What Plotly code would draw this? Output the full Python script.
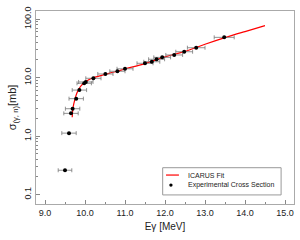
import plotly.graph_objects as go

# Experimental data
exp_E = [9.50, 9.60, 9.65, 9.69, 9.78, 9.86, 9.98, 10.02, 10.21, 10.51, 10.81, 11.00,
         11.50, 11.67, 11.79, 11.93, 12.23, 12.48, 12.78, 13.48]
exp_sigma = [0.26, 1.12, 2.44, 2.93, 4.35, 6.1, 7.96, 8.4, 9.7, 11.5, 12.8, 14.1,
             17.5, 18.6, 20.5, 22.1, 24.3, 27.6, 32.3, 48.6]
exp_Eerr = [0.17, 0.18, 0.18, 0.18, 0.18, 0.18, 0.18, 0.18, 0.19, 0.19, 0.19, 0.20,
            0.20, 0.20, 0.20, 0.21, 0.21, 0.21, 0.22, 0.25]

# ICARUS fit curve
fit_E = [9.68, 9.70, 9.75, 9.80, 9.85, 9.90, 10.0, 10.1, 10.2, 10.4, 10.6, 10.8,
         11.0, 11.5, 12.0, 12.5, 13.0, 13.5, 14.0, 14.5]
fit_sigma = [2.1, 3.0, 4.3, 5.5, 6.4, 7.2, 8.4, 9.2, 9.9, 10.8, 11.8, 12.8,
             14.0, 17.3, 22.5, 28.0, 37.0, 48.0, 61.0, 77.0]

x_ticks = [9.0, 10.0, 11.0, 12.0, 13.0, 14.0, 15.0]
x_minor = [8.5 + 0.5 * i for i in range(15)]
y_ticks = [0.1, 1.0, 10.0, 100.0]
y_minor = [m * d for d in [0.1, 1, 10] for m in range(2, 10)]

legend_labels = ["ICARUS Fit", "Experimental Cross Section"]

FONT = "Liberation Sans, Arial"

fig = go.Figure()
fig.add_trace(go.Scatter(
    x=fit_E, y=fit_sigma, mode="lines", name=legend_labels[0],
    line=dict(color="red", width=1.2, shape="spline"), showlegend=False,
))
fig.add_trace(go.Scatter(
    x=exp_E, y=exp_sigma, mode="markers", name=legend_labels[1],
    marker=dict(color="black", size=4), showlegend=False,
    error_x=dict(type="data", array=exp_Eerr, color="#777777", thickness=0.8, width=2),
))

axis_common = dict(
    showline=True, linecolor="#aaaaaa", linewidth=1, mirror=True,
    ticks="inside", tickcolor="#888888", ticklen=4, tickwidth=1,
    showgrid=False, zeroline=False, automargin=False,
    tickfont=dict(family=FONT, size=9, color="#222222"),
)

# custom legend box (paper coordinates)
shapes = [
    dict(type="rect", xref="paper", yref="paper", x0=0.491, x1=0.950, y0=0.047, y1=0.188,
         line=dict(color="#999999", width=1), fillcolor="white", layer="above"),
    dict(type="line", xref="paper", yref="paper", x0=0.504, x1=0.554, y0=0.150, y1=0.150,
         line=dict(color="red", width=1.2), layer="above"),
    dict(type="circle", xref="paper", yref="paper", x0=0.523 - 0.0065, x1=0.523 + 0.0065,
         y0=0.098 - 0.0085, y1=0.098 + 0.0085,
         line=dict(color="black", width=0), fillcolor="black", layer="above"),
]
annotations = [
    dict(text=legend_labels[0], xref="paper", yref="paper", x=0.580, y=0.150,
         xanchor="left", yanchor="middle", showarrow=False,
         font=dict(family=FONT, size=7, color="#222222")),
    dict(text=legend_labels[1], xref="paper", yref="paper", x=0.580, y=0.098,
         xanchor="left", yanchor="middle", showarrow=False,
         font=dict(family=FONT, size=7, color="#222222")),
]

fig.update_layout(
    width=300, height=240,
    margin=dict(l=36, r=6, t=11, b=36),
    paper_bgcolor="white", plot_bgcolor="white",
    font=dict(family=FONT, color="#222222"),
    xaxis=dict(
        **axis_common, range=[8.775, 15.225],
        tickvals=x_ticks, ticktext=[f"{v:.1f}" for v in x_ticks],
        minor=dict(ticks="inside", tickvals=x_minor, ticklen=2, tickcolor="#888888"),
        title=dict(text="Eγ [MeV]", font=dict(size=10), standoff=6),
    ),
    yaxis=dict(
        **axis_common, type="log", range=[-1.162, 2.137],
        tickvals=y_ticks, ticktext=[f"{v:.1f}" for v in y_ticks], tickangle=-90,
        minor=dict(ticks="inside", tickvals=y_minor, ticklen=2, tickcolor="#888888"),
        title=dict(text="σ<sub>(γ, n)</sub>[mb]", font=dict(size=11), standoff=4),
    ),
    showlegend=False,
    shapes=shapes,
    annotations=annotations,
)

fig.write_html("out.html", config={"displayModeBar": False},
               post_script="document.body.style.margin='0px';")
